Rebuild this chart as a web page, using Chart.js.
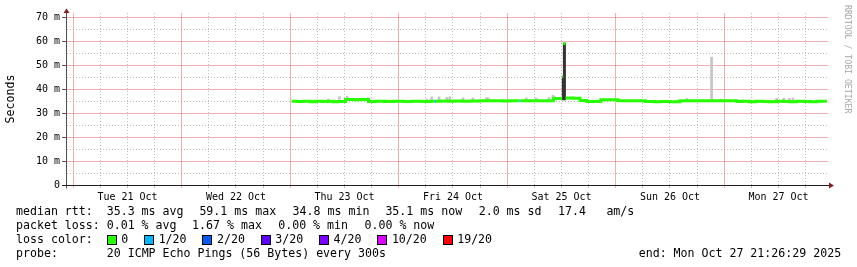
<!DOCTYPE html>
<html>
<head>
<meta charset="utf-8">
<script src="https://cdn.jsdelivr.net/npm/chart.js@4/dist/chart.umd.min.js"></script>
<style>
html,body{margin:0;padding:0;background:#fff;}
#wrap{position:relative;width:857px;height:267px;overflow:hidden;background:#fff;}
#c{position:absolute;left:0;top:0;}
.leg{position:absolute;font-family:"DejaVu Sans Mono",monospace;font-size:11.6px;line-height:14px;white-space:pre;color:#000;}
.sq{display:inline-block;width:10px;height:10px;box-sizing:border-box;border:1px solid #000;vertical-align:-2px;margin-right:4.5px;}
.gap{display:inline-block;width:15.9px;}
#wm{position:absolute;left:843px;top:5px;writing-mode:vertical-rl;font-family:"DejaVu Sans Mono",monospace;font-size:8.2px;line-height:10px;color:#a8a8a8;white-space:pre;}
</style>
</head>
<body>
<div id="wrap">
<canvas id="c" width="857" height="267" style="width:857px;height:267px"></canvas>
<div id="legend"></div>
<div class="leg" id="lossrow" style="top:232px;left:16px">loss color:  </div>
<div class="leg" style="top:246px;left:16px">probe:       20 ICMP Echo Pings (56 Bytes) every 300s</div>
<div class="leg" style="top:246px;left:638.7px">end: Mon Oct 27 21:26:29 2025</div>
<div id="wm">RRDTOOL / TOBI OETIKER</div>
</div>
<script>
// ---- data (hours since Tue 21 Oct 00:00) ----
const dayLabels = ['Tue 21 Oct','Wed 22 Oct','Thu 23 Oct','Fri 24 Oct','Sat 25 Oct','Sun 26 Oct','Mon 27 Oct'];
const gridHours = [0,6,12,18,24,30,36,42,48,54,60,66,72,78,84,90,96,102,108,114,120,126,132,138,144,150,156,162];
const yTickValues = [0,5,10,15,20,25,30,35,40,45,50,55,60,65,70];
const yTickLabels = ['0','','10 m','','20 m','','30 m','','40 m','','50 m','','60 m','','70 m'];

const medTimes = [48.3,49.5,51.0,52.5,53.5,55.0,56.5,57.5,58.5,60.2,62.0,63.5,65.3,67.0,69.0,71.0,73.0,75.0,77.0,79.0,
  80.0,80.25,81.3,83.0,84.5,86.0,88.0,90.0,93.0,95.0,96.5,98.7,98.95,101.0,104.0,106.2,
  108.17,108.17,108.17,108.4,108.4,108.4,108.9,108.9,108.9,110.5,112.1,113.6,115.0,116.7,118.5,120.5,123.0,125.0,
  126.5,128.5,130.0,132.0,134.2,137.0,140.0,143.0,146.8,148.0,149.5,151.0,152.5,154.0,155.5,157.0,158.5,160.0,161.5,163.0,164.5,166.7];
const medValues = [35.0,34.9,35.0,34.8,35.0,34.9,35.0,34.8,34.9,35.7,35.6,35.7,34.9,35.0,34.9,35.0,34.9,35.0,34.9,35.0,
  35.0,35.0,35.1,35.0,35.1,35.0,35.1,35.2,35.2,35.1,35.2,35.2,35.2,35.2,35.2,36.2,
  36.2,null,45.2,45.2,null,59.1,59.1,null,36.4,36.3,35.3,34.9,34.9,35.6,35.6,35.2,35.2,35.2,
  34.9,34.8,34.9,34.8,35.2,35.2,35.2,35.2,34.9,35.0,34.8,35.0,34.9,34.8,35.0,34.9,34.8,35.0,34.9,34.8,35.0,35.0];
const lossTimes = [80.0, 98.7];
const lossCounts = [1, 1];

const smokeTimes = [56.4,58.9,60.6,65.0,78.2,79.3,80.9,82.6,83.3,86.2,88.4,91.4,91.8,100.2,102.4,105.2,106.1,106.4,135.7,141.2,143.4,155.6,157.2,158.4,159.2];
const smokeLow   = [35.3,35.8,36.0,35.6,35.3,35.7,35.7,35.7,35.7,35.7,35.7,35.7,35.7,35.7,35.7,35.7,36.5,36.3,35.6,35.5,35.5,35.4,35.4,35.4,35.4];
const smokeHigh  = [35.9,36.9,37.1,36.4,35.9,36.8,36.8,36.6,36.9,36.4,36.4,36.5,36.4,36.4,36.3,36.5,37.5,37.0,36.1,53.4,35.9,36.2,36.3,36.2,36.3];

const darkTimes = [108.28,108.52,108.77,112.1];
const darkLow   = [35.6,35.6,35.6,35.3];
const darkHigh  = [45.3,59.2,59.2,36.2];

const lossLabels = ['0','1/20','2/20','3/20','4/20','10/20','19/20'];
const lossLevels = [0,1,2,3,4,10,19];
const lossColors = ['#26ff00','#00b8ff','#0059ff','#5e00ff','#7e00ff','#dd00ff','#ff0000'];

// ---- legend text fields ----
const rttFields  = ['median rtt:','35.3 ms avg','59.1 ms max','34.8 ms min','35.1 ms now','2.0 ms sd','17.4','am/s'];
const lossFields = ['packet loss:','0.01 % avg','1.67 % max','0.00 % min','0.00 % now'];
const rttX  = [16, 106.7, 199.4, 292.6, 385.4, 478.7, 558.1, 606.4];
const lossX = [16, 106.7, 192.1, 278.2, 364.5];

const legend = document.getElementById('legend');
function addLine(fields, xs, top){
  fields.forEach((f,i)=>{
    const d=document.createElement('div'); d.className='leg'; d.style.left=xs[i]+'px'; d.style.top=top+'px';
    d.textContent=f; legend.appendChild(d);
  });
}
addLine(rttFields, rttX, 204);
addLine(lossFields, lossX, 218);

const row = document.getElementById('lossrow');
lossLabels.forEach((lab,i)=>{
  const s=document.createElement('span'); s.className='sq'; s.style.background=lossColors[i]; row.appendChild(s);
  row.appendChild(document.createTextNode(lab));
  if(i<lossLabels.length-1){const g=document.createElement('span'); g.className='gap'; row.appendChild(g);}
});

function lossColor(n){
  let c = lossColors[0];
  for(let i=0;i<lossLevels.length;i++){ if(n>=lossLevels[i]) c=lossColors[i]; }
  return c;
}
function lossAt(t){
  const k = lossTimes.indexOf(t);
  return k<0 ? 0 : lossCounts[k];
}

const MAJOR = 'rgba(222,79,79,0.45)';
const MINOR = 'rgba(143,143,143,0.6)';
const FONT = '"DejaVu Sans Mono", monospace';
const xIsMajor = gridHours.map(h => h%24===0);
const yIsMajor = yTickValues.map(v => v%10===0);
const xGridColors = xIsMajor.map(m => m ? MAJOR : MINOR);
const yGridColors = yIsMajor.map(m => m ? MAJOR : MINOR);
const yTickMarkColors = yIsMajor.map(m => m ? '#505050' : 'rgba(0,0,0,0)');

const arrows = {
  id:'arrows',
  afterDraw(chart){
    const {ctx, chartArea:a} = chart;
    const ax = Math.round(a.left)+0.5, ay = Math.round(a.bottom)+0.5;
    ctx.save();
    ctx.lineWidth=1;
    ctx.strokeStyle='#505050';
    ctx.beginPath(); ctx.moveTo(ax, a.top); ctx.lineTo(ax, a.top-4); ctx.moveTo(ax, ay); ctx.lineTo(ax, ay+3); ctx.stroke();
    ctx.strokeStyle='#1f1f1f';
    ctx.beginPath(); ctx.moveTo(ax-4.5, ay); ctx.lineTo(ax, ay); ctx.moveTo(a.right, ay); ctx.lineTo(a.right+1, ay); ctx.stroke();
    ctx.fillStyle='#801f1f';
    ctx.beginPath(); ctx.moveTo(ax, a.top-4.5); ctx.lineTo(ax-3, a.top); ctx.lineTo(ax+3, a.top); ctx.closePath(); ctx.fill();
    ctx.beginPath(); ctx.moveTo(a.right+6, ay); ctx.lineTo(a.right+1, ay-3); ctx.lineTo(a.right+1, ay+3); ctx.closePath(); ctx.fill();
    ctx.restore();
  }
};

new Chart(document.getElementById('c'), {
  type:'line',
  data:{datasets:[
    {type:'line', label:'median rtt', data: medTimes.map((t,i)=>({x:t,y:medValues[i]})),
     borderColor: lossColors[0], borderWidth:3, stepped:true, pointRadius:0, spanGaps:false, tension:0,
     segment:{borderColor: c => lossColor(lossAt(medTimes[c.p0DataIndex]))}, order:0},
    {type:'bar', label:'smoke dark', data: darkTimes.map((t,i)=>({x:t,y:[darkLow[i],darkHigh[i]]})),
     backgroundColor:'#333333', borderWidth:0, barThickness:1.2, grouped:false, order:1},
    {type:'bar', label:'smoke', data: smokeTimes.map((t,i)=>({x:t,y:[smokeLow[i],smokeHigh[i]]})),
     backgroundColor:'#c4c4c4', borderWidth:0, barThickness:2, grouped:false, order:2}
  ]},
  options:{
    responsive:false, animation:false, devicePixelRatio:1,
    layout:{padding:{left:0, top:13, right:29, bottom:60}},
    plugins:{legend:{display:false}, tooltip:{enabled:false}, title:{display:false}},
    scales:{
      x:{type:'linear', min:-1.6, max:166.95, offset:false,
        afterBuildTicks: s => { s.ticks = gridHours.map(v=>({value:v})); },
        afterFit: s => { s.height = 22; },
        ticks:{autoSkip:false, maxRotation:0, minRotation:0, padding:3, color:'#000',
          font:{family:FONT, size:10},
          callback: v => (v%24===12 ? dayLabels[(v-12)/24] : '')},
        grid:{offset:false, lineWidth:1, tickLength:3, color: xGridColors},
        border:{display:true, color:'#1f1f1f', width:1,
          dash: c => (xIsMajor[c.index] ? [] : [1,2])}
      },
      y:{type:'linear', min:0, max:71.88,
        afterBuildTicks: s => { s.ticks = yTickValues.map(v=>({value:v})); },
        afterFit: s => { s.width = 66; },
        ticks:{autoSkip:false, padding:2, color:'#000', font:{family:FONT, size:10},
          callback: (v) => yTickLabels[yTickValues.indexOf(v)]},
        grid:{lineWidth:1, tickLength:4, color: yGridColors, tickColor: yTickMarkColors},
        border:{display:true, color:'#505050', width:1,
          dash: c => (yIsMajor[c.index] ? [] : [1,2])},
        title:{display:true, text:'Seconds', color:'#000', font:{family:FONT, size:11.6}, padding:{top:4,bottom:0}}
      }
    }
  },
  plugins:[arrows]
});
</script>
</body>
</html>
